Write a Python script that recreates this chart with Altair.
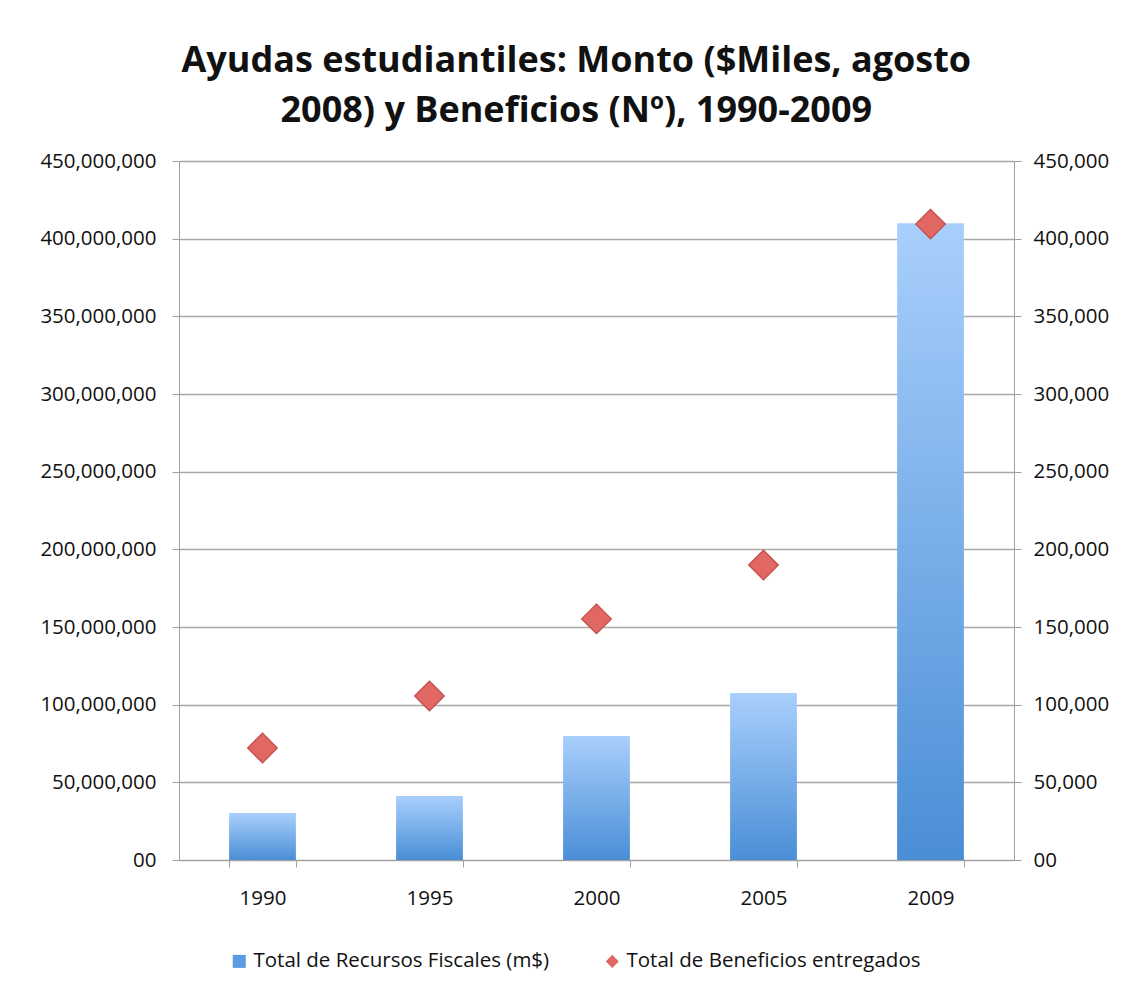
import altair as alt
import pandas as pd

years = ["1990", "1995", "2000", "2005", "2009"]
recursos = [30300000, 41200000, 79800000, 107500000, 410000000]
beneficios = [72100, 105600, 155200, 189900, 409400]
serie_recursos = "Total de Recursos Fiscales (m$)"
serie_beneficios = "Total de Beneficios entregados"
title_lines = ["Ayudas estudiantiles: Monto ($Miles, agosto", "2008) y Beneficios (Nº), 1990-2009"]

df_bar = pd.DataFrame({"anio": years, "valor": recursos})
df_pt = pd.DataFrame({"anio": years, "valor": beneficios, "serie": serie_beneficios})

FONT = "Open Sans"
LBL = 20.5
label_expr = "datum.value == 0 ? '00' : format(datum.value, ',')"

x_enc = alt.X(
    "anio:N",
    sort=years,
    title=None,
    scale=alt.Scale(paddingInner=0.6, paddingOuter=0.3),
    axis=alt.Axis(
        labelAngle=0, tickBand="extent", labelFontSize=LBL, labelPadding=21,
        labelFont=FONT, labelColor="#111", domainColor="#a0a0a0", tickColor="#a0a0a0",
        tickSize=7, grid=False,
    ),
)

gradient = alt.Gradient(
    gradient="linear",
    stops=[alt.GradientStop(color="#a9cffc", offset=0), alt.GradientStop(color="#4a8ed6", offset=1)],
    x1=0, x2=0, y1=0, y2=1,
)

bars = alt.Chart(df_bar).mark_bar(fill=gradient).encode(
    x=x_enc,
    y=alt.Y(
        "valor:Q",
        title=None,
        scale=alt.Scale(domain=[0, 450000000], nice=False),
        axis=alt.Axis(
            values=list(range(0, 450000001, 50000000)), labelExpr=label_expr,
            labelFontSize=LBL, labelFont=FONT, labelColor="#111", labelPadding=16,
            domainColor="#a0a0a0", tickColor="#a0a0a0", tickSize=7,
            gridColor="#a8a8a8", gridWidth=1.3, minExtent=171, maxExtent=171,
        ),
    ),
)

points = alt.Chart(df_pt).mark_point(filled=True, size=880, strokeWidth=1.2, opacity=1).encode(
    x=alt.X("anio:N", sort=years),
    y=alt.Y(
        "valor:Q",
        title=None,
        scale=alt.Scale(domain=[0, 450000], nice=False),
        axis=alt.Axis(
            orient="right", values=list(range(0, 450001, 50000)), labelExpr=label_expr,
            labelFontSize=LBL, labelFont=FONT, labelColor="#111", labelPadding=12,
            domainColor="#a0a0a0", tickColor="#a0a0a0", tickSize=7, grid=False,
        ),
    ),
    color=alt.Color(
        "serie:N",
        scale=alt.Scale(domain=[serie_recursos, serie_beneficios], range=["#5b9be0", "#e06762"]),
        legend=alt.Legend(
            orient="none", direction="horizontal", title=None, labelFontSize=LBL,
            labelFont=FONT, labelColor="#111", symbolSize=170, columnPadding=52,
            legendX=50, legendY=790, symbolStrokeWidth=0, labelLimit=0, labelOffset=4,
        ),
    ),
    shape=alt.Shape(
        "serie:N",
        scale=alt.Scale(domain=[serie_recursos, serie_beneficios], range=["square", "diamond"]),
        legend=alt.Legend(orient="none", direction="horizontal", title=None, legendX=50, legendY=790),
    ),
    stroke=alt.value("#c24a46"),
)

chart = (
    alt.layer(bars, points)
    .resolve_scale(y="independent")
    .properties(
        width=835,
        height=699,
        padding={"left": 0, "top": 35, "right": 5, "bottom": 5},
        title=alt.TitleParams(
            title_lines, fontSize=36, font=FONT, fontWeight="bold", color="#111",
            anchor="middle", frame="bounds", lineHeight=50, offset=21, dx=18,
        ),
    )
    .configure_view(stroke=None)
)

chart.save("out.html", embed_options={"renderer": "svg", "actions": False})
